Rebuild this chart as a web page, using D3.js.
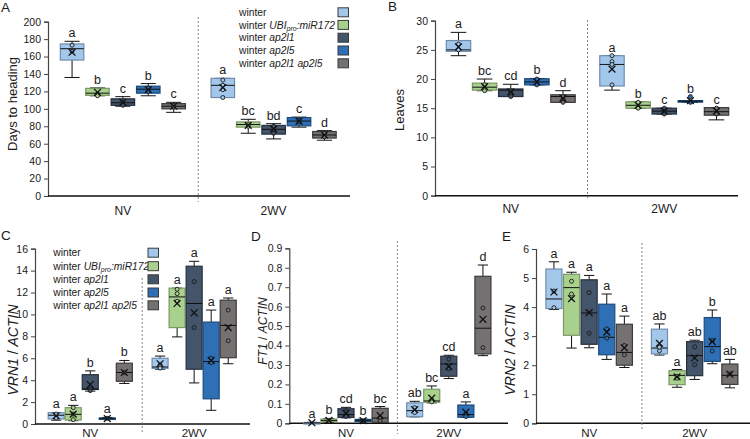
<!DOCTYPE html>
<html><head><meta charset="utf-8">
<script src="https://cdn.jsdelivr.net/npm/d3@7"></script>
<style>
body{margin:0;background:#fff}
svg{display:block}
text{font-family:"Liberation Sans",Arial,sans-serif;fill:#1a1a1a}
</style>
</head><body>
<svg id="chart" width="750" height="439"></svg>
<script>
// ---------- DATA ----------
const conditions = ["NV", "2WV"];
const genotypes = ["winter", "winter UBIpro:miR172", "winter ap2l1", "winter ap2l5", "winter ap2l1 ap2l5"];

// each row: [min, q1, median, q3, max, mean]; order: NV (5 genotypes), then 2WV (5 genotypes)
const headingStats = [
  [136, 156, 169, 174.5, 177.5, 165], [115, 115.5, 118, 123.5, 124, 119], [103, 104, 107, 111.5, 114, 107.5],
  [115, 118, 122.5, 126, 129, 122], [96, 100, 103, 106, 107.5, 103],
  [113, 113, 127, 135, 135, 124.5], [72, 79, 82, 85, 88, 81], [65.5, 71, 76.5, 81, 83, 77],
  [79, 80.5, 86, 90, 90.5, 86], [64, 66.5, 70, 74, 75, 70]
];
const headingPoints = [[173, 166], [117, 115], [108, 104], [124, 120], [104, 102],
  [133, 127, 122, 113], [82, 80], [80, 75, 72], [87, 85], [72, 68]];
const headingLetters = ["a", "b", "c", "b", "c", "a", "bc", "bd", "c", "d"];
const headingTicks = [0, 20, 40, 60, 80, 100, 120, 140, 160, 180, 200];

const leavesStats = [
  [24, 24.75, 25, 26.6, 28, 25.5], [18, 18.1, 18.6, 19.3, 20, 18.7], [17, 17, 18.1, 18.3, 19.1, 17.8],
  [19, 19, 19.5, 20.05, 20.1, 19.5], [16, 16, 17, 17.3, 18, 16.7],
  [18.1, 18.8, 22.5, 24, 24, 21.7], [15, 15, 15.5, 16.1, 16.1, 15.5], [14, 14, 14.5, 15, 15, 14.5],
  [16, 16.1, 16.2, 16.3, 16.3, 16.3], [13, 13.8, 14.4, 15.1, 15.1, 14.5]
];
const leavesPoints = [[26, 25], [19, 18], [18, 17.5, 17], [20, 19], [17, 16.5, 16],
  [24, 23, 22.5, 19], [16, 15], [15, 14.5, 14], [17, 16], [15, 14]];
const leavesLetters = ["a", "bc", "cd", "b", "d", "a", "b", "c", "b", "c"];
const leavesTicks = [0, 5, 10, 15, 20, 25, 30];

const vrn1Stats = [
  [0.35, 0.46, 0.8, 1.03, 1.05, 0.75], [0.3, 0.36, 0.88, 1.49, 1.7, 0.9], [3.0, 3.15, 3.2, 4.5, 4.85, 3.6],
  [0.45, 0.5, 0.52, 0.55, 0.6, 0.5], [3.7, 3.9, 4.7, 5.55, 5.8, 4.7],
  [5.0, 5.08, 5.2, 6.0, 6.2, 5.5], [7.95, 8.8, 11.6, 12.4, 12.4, 11.0], [3.75, 5.0, 11.0, 14.4, 14.85, 10.15],
  [1.25, 2.3, 5.7, 9.3, 10.4, 5.8], [5.5, 6.05, 9.0, 11.3, 11.5, 8.8]
];
const vrn1Points = [[0.9, 0.55], [1.5, 0.9, 0.4], [3.2, 3.05], [0.52], [4.7],
  [5.4, 5.1], [12.3, 11.9, 11.2], [13.0, 8.8], [6.0, 5.6], [10.4, 7.6]];
const vrn1Letters = ["a", "a", "b", "a", "b", "a", "a", "a", "a", "a"];
const vrn1Ticks = [0, 2, 4, 6, 8, 10, 12, 14, 16];

const ft1Stats = [
  [0, 0.001, 0.002, 0.004, 0.005, 0.003], [0.005, 0.008, 0.015, 0.022, 0.025, 0.015], [0.028, 0.03, 0.045, 0.075, 0.082, 0.051],
  [0.008, 0.009, 0.015, 0.02, 0.021, 0.014], [0.003, 0.005, 0.027, 0.077, 0.086, 0.04],
  [0.033, 0.034, 0.065, 0.105, 0.113, 0.07], [0.105, 0.108, 0.115, 0.175, 0.192, 0.129], [0.23, 0.242, 0.305, 0.345, 0.35, 0.293],
  [0.03, 0.031, 0.045, 0.094, 0.11, 0.057], [0.348, 0.357, 0.489, 0.756, 0.814, 0.535]
];
const ft1Points = [[], [0.012], [0.06, 0.035], [0.012], [0.03, 0.012],
  [0.08, 0.055], [0.12, 0.11], [0.33, 0.28], [0.05, 0.035], [0.593, 0.389]];
const ft1Letters = ["a", "b", "cd", "b", "bc", "ab", "bc", "cd", "a", "d"];
const ft1Ticks = [0, 0.1, 0.2, 0.3, 0.4, 0.5, 0.6, 0.7, 0.8, 0.9];

const vrn2Stats = [
  [3.92, 3.95, 4.28, 5.31, 5.56, 4.52], [2.59, 3.03, 4.67, 5.13, 5.2, 4.29], [2.6, 2.72, 3.8, 4.94, 5.09, 3.81],
  [2.2, 2.36, 2.96, 4.1, 4.45, 3.14], [1.92, 2.0, 2.44, 3.41, 3.69, 2.6],
  [2.35, 2.39, 2.59, 3.24, 3.42, 2.75], [1.24, 1.33, 1.65, 1.81, 1.85, 1.6], [1.51, 1.64, 2.33, 2.81, 2.86, 2.25],
  [2.05, 2.13, 2.64, 3.64, 3.9, 2.81], [1.22, 1.34, 1.65, 2.04, 2.2, 1.69]
];
const vrn2Points = [[3.98, 4.55], [4.89, 4.45], [4.5, 3.1], [3.25, 2.93], [2.68, 2.36],
  [2.5, 2.62], [1.62, 1.55], [2.63, 2.02], [2.49, 2.85], [1.7]];
const vrn2Letters = ["a", "a", "a", "a", "a", "ab", "a", "ab", "b", "ab"];
const vrn2Ticks = [0, 1, 2, 3, 4, 5, 6];

// ---------- STYLE ----------
const fills = ["#a3c7ea", "#a9d18e", "#44546a", "#2e6fb5", "#767171"];
const strokes = ["#6f8dab", "#7b9766", "#27303d", "#1d4a7a", "#3c3a3a"];

const svg = d3.select("#chart");

function drawPanel(cfg) {
  const g = svg.append("g");
  const x = d3.scaleBand().domain(conditions).range([cfg.x0, cfg.x1]);
  const bw = x.bandwidth();
  const xi = d3.scaleBand().domain(genotypes)
    .range([bw * (1 - cfg.inner) / 2, bw * (1 + cfg.inner) / 2]).paddingInner(cfg.gap);
  const y = d3.scaleLinear().domain([cfg.ticks[0], cfg.ticks[cfg.ticks.length - 1]]).range([cfg.yBot, cfg.yTop]);

  // y axis
  const ax = g.append("g").attr("transform", `translate(${cfg.axisX},0)`)
    .call(d3.axisLeft(y).tickValues(cfg.ticks).tickSize(4).tickPadding(3).tickFormat(cfg.fmt));
  ax.select(".domain").attr("stroke", "#444").attr("stroke-width", 1.2);
  ax.selectAll(".tick line").attr("stroke", "#444");
  ax.selectAll(".tick text").attr("font-size", 10.5).attr("fill", "#1a1a1a")
    .style("font-family", '"Liberation Sans",Arial,sans-serif');

  // x axis baseline
  g.append("line").attr("x1", cfg.axisX).attr("x2", cfg.axisEnd)
    .attr("y1", y(0)).attr("y2", y(0)).attr("stroke", "#111").attr("stroke-width", 1.6);

  // divider
  const dx = x("2WV");
  g.append("line").attr("x1", dx).attr("x2", dx).attr("y1", cfg.divTop).attr("y2", cfg.divBot)
    .attr("stroke", "#777").attr("stroke-width", 0.9).attr("stroke-dasharray", "2,2");

  // category labels
  g.selectAll(".cat").data(conditions).join("text")
    .attr("x", d => x(d) + bw / 2).attr("y", cfg.catY).attr("text-anchor", "middle")
    .attr("font-size", cfg.catSize).text(d => d);

  // boxes
  const items = [];
  conditions.forEach((c, ci) => genotypes.forEach((gt, gi) => {
    const k = ci * 5 + gi;
    items.push({c, gi, s: cfg.stats[k], pts: cfg.points[k], letter: cfg.letters[k]});
  }));
  const bx = xi.bandwidth();
  items.forEach(d => {
    const left = x(d.c) + xi(genotypes[d.gi]);
    const cx = left + bx / 2;
    const [mn, q1, md, q3, mx, mean] = d.s;
    const cap = bx * 0.32;
    const wl = g.append("g");
    wl.append("line").attr("x1", cx).attr("x2", cx).attr("y1", y(mx)).attr("y2", y(q3)).attr("stroke", "#111");
    wl.append("line").attr("x1", cx).attr("x2", cx).attr("y1", y(q1)).attr("y2", y(mn)).attr("stroke", "#111");
    wl.append("line").attr("x1", cx - cap).attr("x2", cx + cap).attr("y1", y(mx)).attr("y2", y(mx)).attr("stroke", "#111");
    wl.append("line").attr("x1", cx - cap).attr("x2", cx + cap).attr("y1", y(mn)).attr("y2", y(mn)).attr("stroke", "#111");
    wl.append("rect").attr("x", left).attr("width", bx).attr("y", y(q3))
      .attr("height", Math.max(1.5, y(q1) - y(q3)))
      .attr("fill", fills[d.gi]).attr("stroke", strokes[d.gi]).attr("stroke-width", 1.2);
    wl.append("line").attr("x1", left).attr("x2", left + bx).attr("y1", y(md)).attr("y2", y(md))
      .attr("stroke", "#111").attr("stroke-width", 1);
    d.pts.forEach(p => wl.append("circle").attr("cx", cx).attr("cy", y(p)).attr("r", 2)
      .attr("fill", fills[d.gi]).attr("stroke", "#1a1a1a").attr("stroke-width", 0.9));
    const m = 3.4, my = y(mean);
    wl.append("path").attr("d", `M${cx - m},${my - m}L${cx + m},${my + m}M${cx - m},${my + m}L${cx + m},${my - m}`)
      .attr("stroke", "#111").attr("stroke-width", 1.3);
    const top = Math.min(y(mx), ...d.pts.map(p => y(p)));
    g.append("text").attr("x", cx).attr("y", top - 4).attr("text-anchor", "middle")
      .attr("font-size", 12.5).text(d.letter);
  });

  const t = g.append("text").attr("transform", `translate(${cfg.titleX},${cfg.titleY}) rotate(-90)`)
    .attr("text-anchor", "middle").attr("font-size", cfg.titleSize);
  cfg.title.forEach(seg => t.append("tspan").attr("font-style", seg[1] ? "italic" : "normal").text(seg[0]));

  svg.append("text").attr("x", cfg.labX).attr("y", cfg.labY).attr("font-size", 13.5).text(cfg.label);
}

function drawLegend(lx, sx, ys) {
  const labels = [
    [["winter ", 0]],
    [["winter ", 0], ["UBI", 1], ["pro", 2], [":miR172", 1]],
    [["winter ", 0], ["ap2l1", 1]],
    [["winter ", 0], ["ap2l5", 1]],
    [["winter ", 0], ["ap2l1 ap2l5", 1]]
  ];
  genotypes.forEach((gt, i) => {
    const t = svg.append("text").attr("x", lx).attr("y", ys[i] + 3.6).attr("font-size", 10.3);
    labels[i].forEach(seg => {
      const sp = t.append("tspan").text(seg[0]);
      if (seg[1] >= 1) sp.attr("font-style", "italic");
      if (seg[1] === 2) sp.attr("font-size", 7).attr("dy", 2.5);
      else if (seg[0] === ":miR172") sp.attr("dy", -2.5);
    });
    svg.append("rect").attr("x", sx).attr("y", ys[i] - 4.5).attr("width", 10.5).attr("height", 9)
      .attr("fill", fills[i]).attr("stroke", "#3a3a3a").attr("stroke-width", 1);
  });
}

const fmtInt = d3.format("d");
drawPanel({label: "A", labX: 1, labY: 12, stats: headingStats, points: headingPoints, letters: headingLetters,
  ticks: headingTicks, fmt: fmtInt, x0: 47.5, x1: 349, axisX: 48, axisEnd: 350, yTop: 21.7, yBot: 196,
  inner: 0.83, gap: 0.075, divTop: 17, divBot: 202, catY: 215, catSize: 12,
  title: [["Days to heading", 0]], titleX: 16.5, titleY: 104, titleSize: 13});
drawPanel({label: "B", labX: 388, labY: 11, stats: leavesStats, points: leavesPoints, letters: leavesLetters,
  ticks: leavesTicks, fmt: fmtInt, x0: 434, x1: 741, axisX: 435, axisEnd: 738, yTop: 20.7, yBot: 195.7,
  inner: 0.84, gap: 0.066, divTop: 20, divBot: 200, catY: 212.5, catSize: 12,
  title: [["Leaves", 0]], titleX: 404, titleY: 110, titleSize: 13});
drawPanel({label: "C", labX: 1, labY: 240, stats: vrn1Stats, points: vrn1Points, letters: vrn1Letters,
  ticks: vrn1Ticks, fmt: fmtInt, x0: 38.3, x1: 246.1, axisX: 35, axisEnd: 250, yTop: 248.7, yBot: 424,
  inner: 0.81, gap: 0.06, divTop: 278, divBot: 434, catY: 436.5, catSize: 11.5,
  title: [["VRN1", 1], [" / ", 0], ["ACTIN", 1]], titleX: 18, titleY: 350, titleSize: 14});
drawPanel({label: "D", labX: 251, labY: 241, stats: ft1Stats, points: ft1Points, letters: ft1Letters,
  ticks: ft1Ticks, fmt: d => d === 0 ? "0" : d3.format(".1f")(d), x0: 294.6, x1: 500.2, axisX: 289.3, axisEnd: 508,
  yTop: 248.3, yBot: 423.3, inner: 0.82, gap: 0.06, divTop: 241, divBot: 434, catY: 436.5, catSize: 11.5,
  title: [["FT1", 1], [" / ", 0], ["ACTIN", 1]], titleX: 267, titleY: 331, titleSize: 12});
drawPanel({label: "E", labX: 502, labY: 241, stats: vrn2Stats, points: vrn2Points, letters: vrn2Letters,
  ticks: vrn2Ticks, fmt: fmtInt, x0: 536.4, x1: 747.4, axisX: 536, axisEnd: 750, yTop: 249, yBot: 423.3,
  inner: 0.82, gap: 0.086, divTop: 243, divBot: 431, catY: 436.5, catSize: 11.5,
  title: [["VRN2", 1], [" / ", 0], ["ACTIN", 1]], titleX: 515, titleY: 350, titleSize: 14});

drawLegend(239, 338, [12.3, 24.9, 37.7, 50.5, 63.3]);
drawLegend(53.3, 148, [252.7, 266.2, 279.3, 292.5, 305.3]);
</script>
</body></html>
